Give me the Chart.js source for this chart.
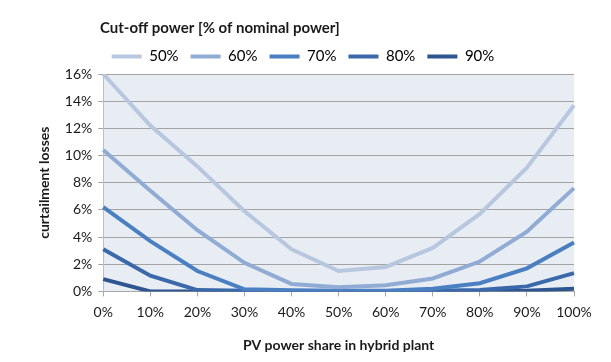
<!DOCTYPE html>
<html>
<head>
<meta charset="utf-8">
<script src="https://cdn.jsdelivr.net/npm/chart.js@4"></script>
<style>
  html, body { margin: 0; padding: 0; background: #fff; }
  #wrap { width: 611px; height: 362px; }
</style>
</head>
<body>
<div id="wrap"><canvas id="grafico"></canvas></div>
<script>
// datos
const categorias = ['0%', '10%', '20%', '30%', '40%', '50%', '60%', '70%', '80%', '90%', '100%'];
const corte50 = [16.0, 12.2, 9.2, 5.9, 3.1, 1.5, 1.8, 3.2, 5.7, 9.1, 13.7];
const corte60 = [10.4, 7.4, 4.5, 2.1, 0.55, 0.3, 0.45, 0.95, 2.2, 4.4, 7.6];
const corte70 = [6.2, 3.7, 1.5, 0.15, 0.08, 0.05, 0.05, 0.2, 0.6, 1.7, 3.6];
const corte80 = [3.1, 1.15, 0.1, 0.05, 0.03, 0.03, 0.03, 0.05, 0.1, 0.37, 1.35];
const corte90 = [0.9, 0.0, 0.0, 0.0, 0.0, 0.0, 0.0, 0.0, 0.0, 0.05, 0.2];
const nombresSeries = ['50%', '60%', '70%', '80%', '90%'];
const coloresSeries = ['#b8c7e0', '#91acd4', '#4a7fc1', '#3a68aa', '#2d5590'];

const FUENTE = 'Lato, "Open Sans", sans-serif';

// fondo del area de trazado + titulo de la leyenda
const fondoPlugin = {
    id: 'fondoArea',
    beforeDraw(chart) {
        const { ctx, chartArea: a } = chart;
        ctx.save();
        ctx.fillStyle = '#e8edf4';
        ctx.fillRect(a.left, a.top, a.right - a.left, a.bottom - a.top);
        ctx.restore();
    },
    afterDraw(chart) {
        const ctx = chart.ctx;
        ctx.save();
        ctx.font = 'bold 15px ' + FUENTE;
        ctx.fillStyle = '#1a1a1a';
        ctx.textBaseline = 'middle';
        ctx.fillText('Cut-off power [% of nominal power]', 100, 28);
        ctx.restore();
    }
};

const series = [corte50, corte60, corte70, corte80, corte90];

new Chart(document.getElementById('grafico'), {
    type: 'line',
    data: {
        labels: categorias,
        datasets: series.map((valores, i) => ({
            label: nombresSeries[i],
            data: valores,
            borderColor: coloresSeries[i],
            backgroundColor: coloresSeries[i],
            borderWidth: 4,
            pointRadius: 0,
            tension: 0,
            fill: false
        }))
    },
    options: {
        responsive: true,
        maintainAspectRatio: false,
        animation: false,
        layout: { padding: { top: 37, right: 37, left: 32, bottom: 4 } },
        plugins: {
            legend: {
                display: true,
                position: 'top',
                labels: {
                    boxWidth: 30,
                    boxHeight: 4,
                    padding: 12,
                    color: '#1a1a1a',
                    font: { family: FUENTE, size: 15 },
                    generateLabels(chart) {
                        return chart.data.datasets.map((ds, i) => ({
                            text: ds.label,
                            fillStyle: ds.borderColor,
                            strokeStyle: ds.borderColor,
                            lineWidth: 0,
                            datasetIndex: i
                        }));
                    }
                }
            },
            tooltip: { enabled: false }
        },
        scales: {
            x: {
                offset: false,
                title: {
                    display: true,
                    text: 'PV power share in hybrid plant',
                    color: '#1a1a1a',
                    font: { family: FUENTE, size: 14, weight: 'bold' },
                    padding: { top: 8 }
                },
                ticks: {
                    color: '#1a1a1a',
                    font: { family: FUENTE, size: 14 },
                    maxRotation: 0,
                    autoSkip: false,
                    padding: 8
                },
                grid: {
                    drawOnChartArea: false,
                    drawTicks: true,
                    tickLength: 5,
                    color: '#a6a6a6'
                },
                border: { color: '#a6a6a6' }
            },
            y: {
                min: 0,
                max: 16,
                title: {
                    display: true,
                    text: 'curtailment losses',
                    color: '#1a1a1a',
                    font: { family: FUENTE, size: 14, weight: 'bold' },
                    padding: { bottom: 6 }
                },
                ticks: {
                    stepSize: 2,
                    color: '#1a1a1a',
                    font: { family: FUENTE, size: 14 },
                    padding: 6,
                    callback: v => v + '%'
                },
                grid: {
                    color: '#a3a3a3',
                    tickLength: 5
                },
                border: { color: '#bfbfbf' }
            }
        }
    },
    plugins: [fondoPlugin]
});
</script>
</body>
</html>
